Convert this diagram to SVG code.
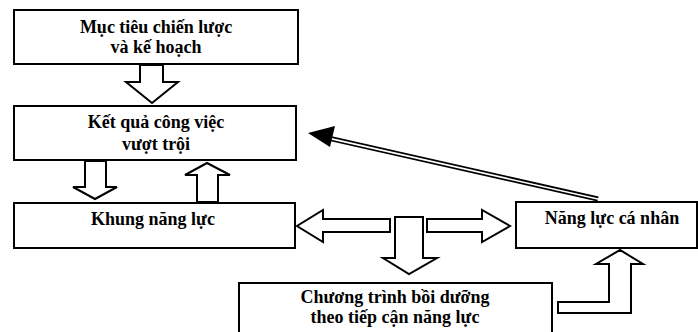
<svg xmlns="http://www.w3.org/2000/svg" width="698" height="332" viewBox="0 0 698 332">
<style>
.box{fill:#fff;stroke:#000;stroke-width:2}
.arr{fill:#fff;stroke:#000;stroke-width:2;stroke-linejoin:miter}
.t{font-family:'Liberation Serif','Times New Roman',serif;font-weight:700;font-size:18px;text-anchor:middle;fill:#000}
</style>
<rect width="698" height="332" fill="#fff"/>
<g id="n1"><rect class="box" x="14" y="10" width="284" height="54"/><text class="t" x="156" y="33">Mục tiêu chiến lược</text><text class="t" x="156" y="53">và kế hoạch</text></g>
<g id="n2"><rect class="box" x="14" y="106" width="282" height="54"/><text class="t" x="156" y="128">Kết quả công việc</text><text class="t" x="156" y="150">vượt trội</text></g>
<g id="n3"><rect class="box" x="14" y="203" width="281" height="45"/><text class="t" x="153" y="225">Khung năng lực</text></g>
<g id="n4"><rect class="box" x="516" y="202" width="181" height="46"/><text class="t" x="612" y="224">Năng lực cá nhân</text></g>
<g id="n5"><rect class="box" x="239" y="283" width="313" height="52"/><text class="t" x="395" y="303">Chương trình bồi dưỡng</text><text class="t" x="395" y="323">theo tiếp cận năng lực</text></g>
<g id="connectors">
<polygon class="arr" points="140,65 163,65 163,82 178,82 152,103 126,82 140,82"/>
<polygon class="arr" points="85,161 106,161 106,187 117,187 95,199 73,187 85,187"/>
<polygon class="arr" points="197,202 218,202 218,175 230,175 207,163 185,175 197,175"/>
<polygon class="arr" points="390,219 390,232 323,232 323,242 297,226 323,210 323,219"/>
<polygon class="arr" points="427,219 482,219 482,210 510,226 482,242 482,232 427,232"/>
<polygon class="arr" points="395,217 423,217 423,258 437,258 409,274 383,258 395,258"/>
<polygon class="arr" points="558,302 609,302 609,264 596,264 620,250 643,264 631,264 631,313 558,313"/>
<line x1="598" y1="199" x2="328" y2="138" stroke="#000" stroke-width="5"/>
<line x1="600" y1="199.5" x2="326" y2="137.6" stroke="#fff" stroke-width="1.6"/>
<polygon points="308,133 335,126 330,147" fill="#000"/>
</g>
</svg>
